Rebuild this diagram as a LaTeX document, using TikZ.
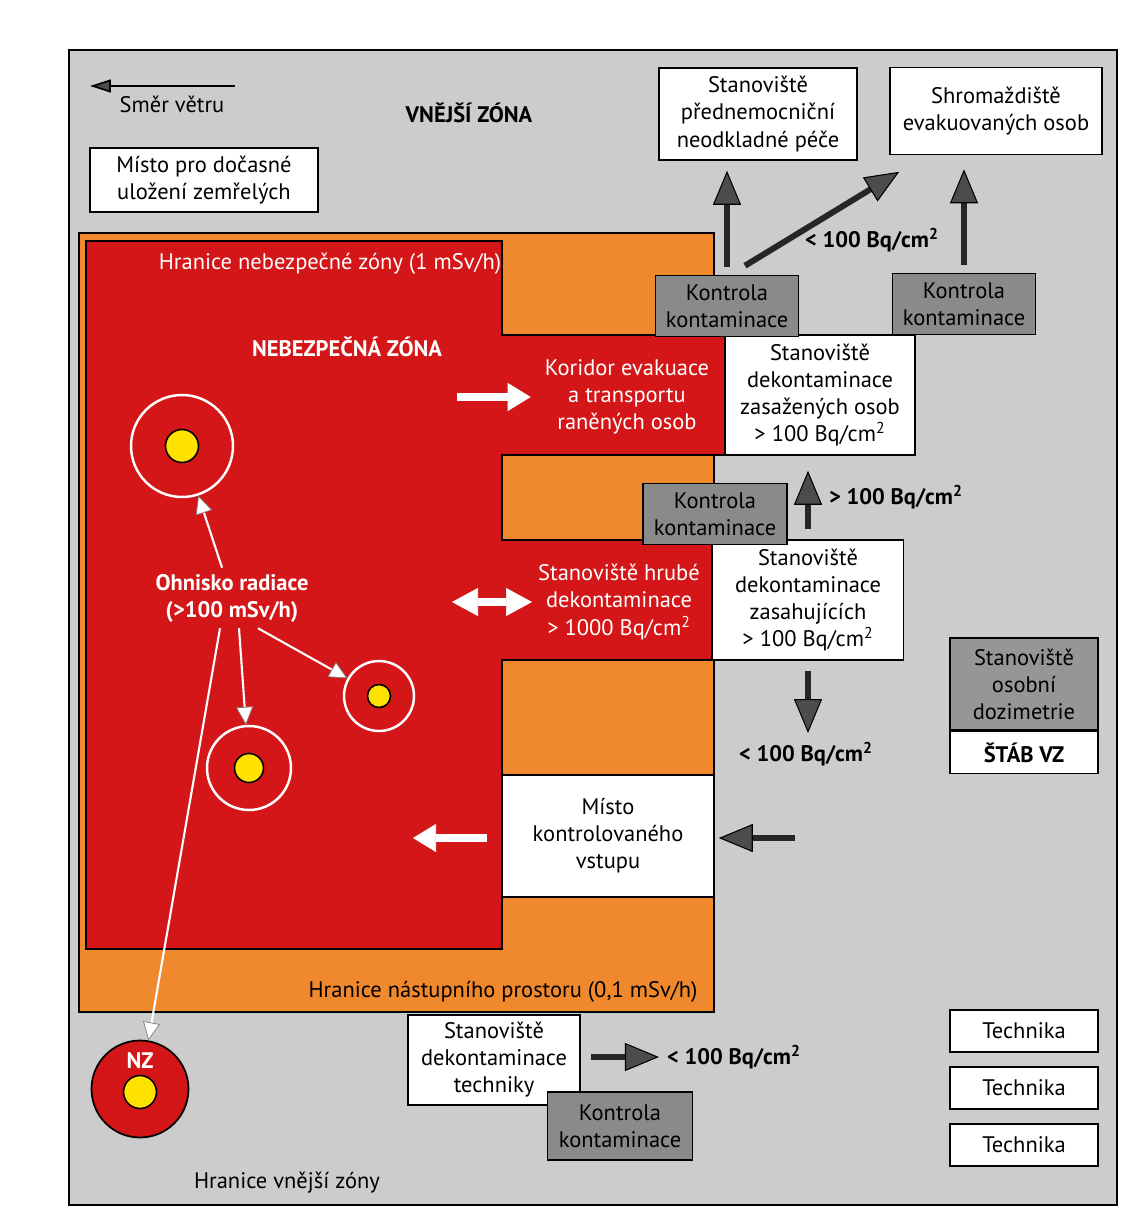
\documentclass[tikz,border=0pt]{standalone}
\usepackage{fontspec}
\setmainfont{PT Sans}
\usetikzlibrary{arrows.meta}

\definecolor{zonered}{RGB}{212,22,24}
\definecolor{zoneorange}{RGB}{240,136,46}
\definecolor{zonegrey}{RGB}{204,204,204}
\definecolor{kkgrey}{RGB}{138,138,138}
\definecolor{dozgrey}{RGB}{150,150,150}
\definecolor{zdrojyellow}{RGB}{255,226,0}

\tikzset{
	txt/.style={font=\fontsize{12.8}{15.4}\selectfont},
	tucne/.style={font=\fontsize{12.8}{15.4}\selectfont\bfseries},
	box/.style={draw=black, fill=white, line width=0.9pt, align=center, inner sep=0pt},
	kontrola/.style={box, fill=kkgrey, minimum width=2.86cm, minimum height=1.22cm},
	kruh/.style={circle, draw=white, line width=1.4pt, inner sep=0pt},
	zdroj/.style={circle, draw=black, fill=zdrojyellow, line width=0.9pt, inner sep=0pt},
	tmava/.style={line width=3.4pt, draw=black!85,
		-{Triangle[width=0.56cm, length=0.68cm, line width=0.6pt, fill=black!70, color=black]}},
	bila/.style={line width=4.4pt, draw=white,
		-{Triangle[width=0.56cm, length=0.46cm, line width=0.4pt, fill=white, color=white]}},
	tenka/.style={line width=1.2pt, draw=white,
		-{Triangle[width=0.34cm, length=0.36cm, line width=0.4pt, fill=white, color=gray]}},
}

\begin{document}
\begin{tikzpicture}[x=0.02cm, y=-0.02cm, every node/.style={txt}]
	% page and outer zone
	\useasboundingbox (0,0) rectangle (1135,1213);
	\fill[white] (0,0) rectangle (1135,1213);
	\draw[line width=1.2pt, fill=zonegrey] (69,50) rectangle (1117,1205);
	% nastupni prostor
	\draw[line width=0.8pt, fill=zoneorange] (79,233) rectangle (714,1012);
	% nebezpecna zona
	\draw[line width=0.8pt, fill=zonered] (86,241) -- (502,241) -- (502,335) -- (725,335)
		-- (725,455) -- (502,455) -- (502,540) -- (712,540) -- (712,660) -- (502,660)
		-- (502,949) -- (86,949) -- cycle;

	% outer zone texts
	\coordinate (vitrA) at (235,86);
	\coordinate (vitrB) at (90,86);
	\draw[line width=1pt, -{Triangle[width=0.26cm, length=0.42cm, fill=black!70]}] (vitrA) -- (vitrB);
	\node (smer) at (172,104) {Směr větru};
	\node[tucne] (vnejsi) at (469,113) {VNĚJŠÍ ZÓNA};
	\node[box, minimum width=4.56cm, minimum height=1.28cm] (zemreli) at (204,180) {Místo pro dočasné\\uložení zemřelých};
	\node (hranVZ) at (287,1183) {Hranice vnější zóny};

	% zone texts
	\node[text=white] (hranNZ) at (330,264) {Hranice nebezpečné zóny (1 mSv/h)};
	\node[tucne, text=white] (nebezp) at (347,347) {NEBEZPEČNÁ ZÓNA};
	\node (hranNP) at (503,992) {Hranice nástupního prostoru (0,1 mSv/h)};
	\node[text=white, align=center] (koridor) at (627,397) {Koridor evakuace\\a transportu\\raněných osob};
	\node[text=white, align=center] (hrube) at (619,602) {Stanoviště hrubé\\dekontaminace\\> 1000 Bq/cm\textsuperscript{2}};

	% ohniska radiace
	\node[tucne, text=white, align=center] (ohnisko) at (232,598) {Ohnisko radiace\\(>100 mSv/h)};
	\node[kruh, minimum size=2.04cm] (o1) at (182,446) {};
	\node[zdroj, minimum size=0.66cm] at (o1) {};
	\node[kruh, minimum size=1.4cm] (o2) at (379,696) {};
	\node[zdroj, minimum size=0.46cm] at (o2) {};
	\node[kruh, minimum size=1.68cm] (o3) at (249,768) {};
	\node[zdroj, minimum size=0.58cm] at (o3) {};
	\node[circle, draw=black, fill=zonered, line width=1pt, minimum size=1.94cm] (nzkruh) at (140,1089) {};
	\node[zdroj, minimum size=0.66cm] at (140,1092) {};
	\node[tucne, text=white] (nzlabel) at (140,1061) {NZ};
	\draw[tenka] (ohnisko) -- (o1);
	\draw[tenka] ([xshift=0.14cm]ohnisko.south) -- (o3);
	\draw[tenka] ([xshift=0.52cm]ohnisko.south) -- (o2);
	\draw[tenka] ([xshift=-0.24cm]ohnisko.south) -- (nzkruh);

	% stanoviste
	\node[box, minimum width=3.96cm, minimum height=1.84cm] (pece) at (758,114) {Stanoviště\\přednemocniční\\neodkladné péče};
	\node[box, minimum width=4.24cm, minimum height=1.74cm] (shrom) at (996,111) {Shromaždiště\\evakuovaných osob};
	\node[box, minimum width=3.8cm, minimum height=2.4cm] (zasazenych) at (820,395) {Stanoviště\\dekontaminace\\zasažených osob\\> 100 Bq/cm\textsuperscript{2}};
	\node[box, minimum width=3.82cm, minimum height=2.4cm] (zasahujicich) at (808,600) {Stanoviště\\dekontaminace\\zasahujících\\> 100 Bq/cm\textsuperscript{2}};
	\node[box, minimum width=4.24cm, minimum height=2.44cm] (vstup) at (608,836) {Místo\\kontrolovaného\\vstupu};
	\node[box, minimum width=3.44cm, minimum height=1.8cm] (techbox) at (494,1060) {Stanoviště\\dekontaminace\\techniky};
	\node[box, fill=dozgrey, minimum width=2.96cm, minimum height=1.84cm] (dozimetrie) at (1024,684) {Stanoviště\\osobní\\dozimetrie};
	\node[box, tucne, anchor=north, minimum width=2.96cm, minimum height=0.84cm] (stab) at (dozimetrie.south) {ŠTÁB VZ};
	\node[box, minimum width=2.96cm, minimum height=0.84cm] (tech1) at (1024,1031) {Technika};
	\node[box, minimum width=2.96cm, minimum height=0.84cm] (tech2) at (1024,1088) {Technika};
	\node[box, minimum width=2.96cm, minimum height=0.84cm] (tech3) at (1024,1145) {Technika};

	% kontrola kontaminace
	\node[kontrola] (kk1) at (727,306) {Kontrola\\kontaminace};
	\node[kontrola] (kk2) at (964,304) {Kontrola\\kontaminace};
	\node[kontrola, minimum width=2.88cm] (kk3) at (715,514) {Kontrola\\kontaminace};
	\node[kontrola, minimum width=2.9cm, minimum height=1.36cm] (kk4) at (620,1126) {Kontrola\\kontaminace};

	% values
	\node[tucne] (lab1) at (872,240) {< 100 Bq/cm\textsuperscript{2}};
	\node[tucne] (lab2) at (896,497) {> 100 Bq/cm\textsuperscript{2}};
	\node[tucne] (lab3) at (806,754) {< 100 Bq/cm\textsuperscript{2}};
	\node[tucne] (lab4) at (734,1057) {< 100 Bq/cm\textsuperscript{2}};

	% dark arrows
	\draw[tmava, shorten <=0.16cm, shorten >=0.2cm] (kk1.north) -- (kk1.north |- pece.south);
	\draw[tmava] ([xshift=0.36cm, yshift=0.18cm]kk1.north) -- ([xshift=0.2cm, yshift=-0.33cm]shrom.south west);
	\draw[tmava, shorten <=0.16cm, shorten >=0.28cm] (kk2.north) -- (kk2.north |- shrom.south);
	\draw[tmava, shorten <=0.2cm, shorten >=0.3cm] (zasahujicich.north) -- (zasahujicich.north |- zasazenych.south);
	\draw[tmava, shorten <=0.2cm, shorten >=0.06cm] (zasahujicich.south) -- (zasahujicich.south |- lab3.north);
	\coordinate (vstupR) at (795,838);
	\draw[tmava, shorten >=0.08cm] (vstupR) -- (vstup.east |- vstupR);
	\draw[tmava, shorten <=0.2cm, shorten >=0.04cm] (techbox.east |- lab4) -- (lab4.west);

	% white arrows
	\coordinate (korA) at (457,397);
	\draw[bila, shorten >=0.16cm] (korA) -- (koridor.west);
	\coordinate (hrubA) at (452,602);
	\draw[bila, {Triangle[width=0.56cm, length=0.52cm, line width=0.4pt, fill=white, color=white]}-{Triangle[width=0.56cm, length=0.52cm, line width=0.4pt, fill=white, color=white]}] (hrubA) -- (hrube.west);
	\coordinate (vstupL) at (413,838);
	\draw[bila, shorten <=0.28cm] (vstup.west |- vstupL) -- (vstupL);
\end{tikzpicture}
\end{document}
